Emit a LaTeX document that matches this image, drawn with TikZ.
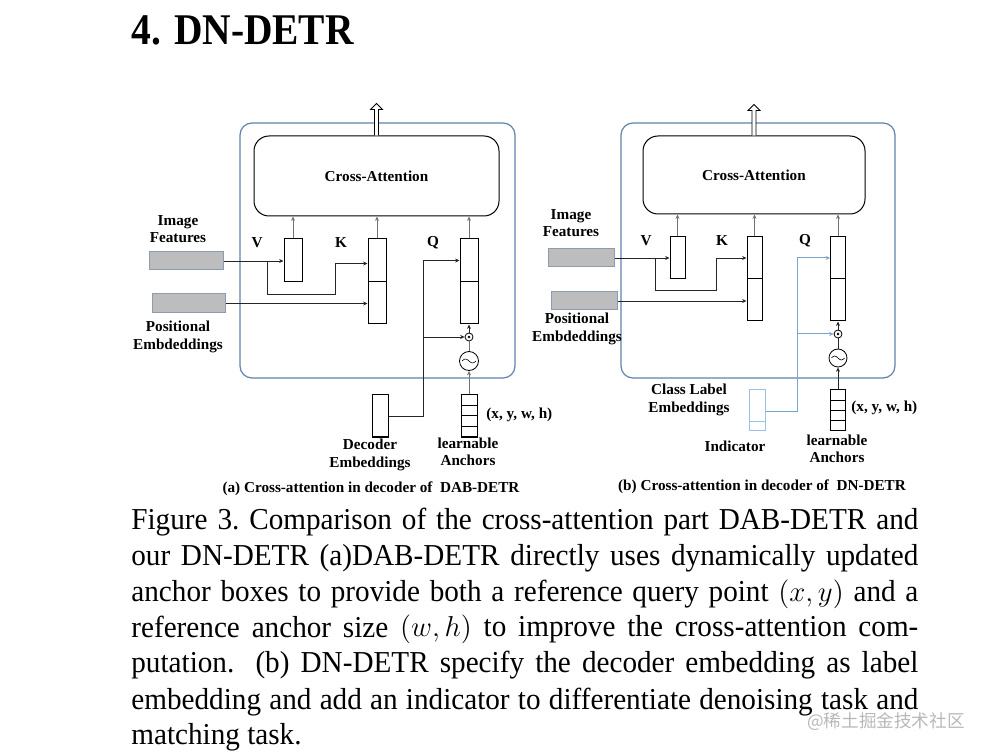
\documentclass[tikz,border=0pt]{standalone}
\usepackage{fontspec}
\setmainfont{Liberation Serif}
\newfontfamily\capfont[FakeStretch=0.96]{Liberation Serif}
\newfontfamily\headfont[FakeStretch=0.9]{Liberation Serif}
\newfontfamily\cjkfont{Noto Sans CJK SC}
\usetikzlibrary{arrows.meta,calc}

\definecolor{frameblue}{HTML}{5D82AC}
\definecolor{qblue}{HTML}{7AA3D4}
\definecolor{indblue}{HTML}{9CC0E6}
\definecolor{featgray}{HTML}{BDBDBD}
\definecolor{featedge}{HTML}{8C9CB0}

\newcommand\labfont{\bfseries\fontsize{7.6}{8.6}\selectfont}

\begin{document}
\begin{tikzpicture}[x=0.5pt,y=-0.5pt,
  outer/.style={draw=frameblue, line width=0.6pt, rounded corners=6pt},
  attn/.style={draw, rounded corners=7.5pt, font=\labfont, line width=0.5pt},
  cell/.style={draw, inner sep=0pt, line width=0.5pt},
  feat/.style={draw=featedge, fill=featgray, inner sep=0pt, line width=0.5pt},
  lab/.style={font=\labfont, align=center, inner sep=0pt},
  conn/.style={draw=black!85, line width=0.4pt},
  upconn/.style={draw=black!55, line width=0.4pt},
  bconn/.style={draw=qblue, line width=0.5pt},
  arr/.style={-{Stealth[length=2.2pt,width=2pt]}},
  opcirc/.style={draw, circle, inner sep=0pt, line width=0.4pt},
  outarrow/.style={draw, fill=white, line width=0.4pt}]

\path [use as bounding box] (0,0) rectangle (986,754);

% HEADING
\node[anchor=base west, inner sep=0pt, font=\headfont\bfseries\fontsize{21.9}{26}\selectfont] (title) at (131,45) {4. DN-DETR};

% PANEL A
\node[outer, minimum width=137.5pt, minimum height=127.5pt] (frameA) at (377.5,250.5) {};
\node[attn, minimum width=122.5pt, minimum height=40pt] (attA) at (376.5,176) {Cross-Attention};
\draw[outarrow] ([xshift=-1pt]attA.north) -- ++(0pt,13pt) -- ++(-2pt,0pt) -- ++(3pt,3pt) -- ++(3pt,-3pt) -- ++(-2pt,0pt) -- ([xshift=1pt]attA.north);

\node[cell, minimum width=9pt, minimum height=21.5pt] (vA) at (293,260.5) {};
\node[cell, minimum width=9pt, minimum height=21.5pt] (kA1) at (377,260.5) {};
\node[cell, minimum width=9pt, minimum height=21pt] (kA2) at (377,303) {};
\node[cell, minimum width=9pt, minimum height=21.5pt] (qA1) at (469,260.5) {};
\node[cell, minimum width=9pt, minimum height=21pt] (qA2) at (469,303) {};
\node[lab] (vlabA) at (257,243) {V};
\node[lab] (klabA) at (341,243) {K};
\node[lab] (qlabA) at (433,243) {Q};

\node[feat, minimum width=37pt, minimum height=9pt] (imgA) at (186,261) {};
\node[feat, minimum width=36.5pt, minimum height=9.5pt] (posA) at (188.5,303.5) {};
\node[lab] (imglabA) at (178,229) {Image\\Features};
\node[lab] (poslabA) at (178,337) {Positional\\Embdeddings};

\node[opcirc, minimum size=4pt] (odA) at (469,337) {};
\fill (odA) circle (0.7pt);
\node[opcirc, minimum size=9.5pt] (sinA) at (469,361) {};
\draw[line width=0.3pt] ([xshift=-3.5pt]sinA.center) sin ++(1.75pt,1pt) cos ++(1.75pt,-1pt) sin ++(1.75pt,-1pt) cos ++(1.75pt,1pt);

\node[cell, minimum width=8pt, minimum height=21pt] (decA) at (380,416) {};
\foreach \i/\y in {1/400.25,2/410.75,3/421.25,4/431.75}
  \node[cell, minimum width=8pt, minimum height=5.25pt] (ancA\i) at (469,\y) {};
\node[lab, anchor=west] (xywhA) at (486,415) {(x, y, w, h)};
\node[lab] (declabA) at (370,455) {Decoder\\Embeddings};
\node[lab] (anclabA) at (468,452) {learnable\\Anchors};
\node[lab] (capA) at (371,489) {(a) Cross-attention in decoder of~~DAB-DETR};

\draw[upconn,arr] (vA.north) -- (vA.north |- attA.south);
\draw[upconn,arr] (kA1.north) -- (kA1.north |- attA.south);
\draw[upconn,arr] (qA1.north) -- (qA1.north |- attA.south);

\draw[conn,arr] (imgA.east) -- (imgA.east -| vA.west);
\coordinate (splitA) at (267,261);
\draw[conn,arr] (splitA) |- (335,294) |- ([yshift=-1.5pt]kA1.west);
\draw[conn,arr] (posA.east) -- (posA.east -| kA2.west);

\draw[conn,arr] (decA.east) -| ($(qA1.west)+(-36,0)$) -- (qA1.west);
\coordinate (tapA) at (424,337);
\draw[conn,arr] (tapA) -- (odA.west);
\draw[conn,arr] (odA.north) -- (qA2.south);
\draw[upconn] (sinA.north) -- (odA.south);
\draw[upconn,arr] (ancA1.north) -- (sinA.south);

% PANEL B
\node[outer, minimum width=137pt, minimum height=127.5pt] (frameB) at (758,250.5) {};
\node[attn, minimum width=111pt, minimum height=39pt] (attB) at (754,175) {Cross-Attention};
\draw[outarrow] ([xshift=-1pt]attB.north) -- ++(0pt,12.5pt) -- ++(-2pt,0pt) -- ++(3pt,3pt) -- ++(3pt,-3pt) -- ++(-2pt,0pt) -- ([xshift=1pt]attB.north);

\node[cell, minimum width=7.5pt, minimum height=21pt] (vB) at (677.5,258) {};
\node[cell, minimum width=7.5pt, minimum height=21pt] (kB1) at (754.5,258) {};
\node[cell, minimum width=7.5pt, minimum height=21pt] (kB2) at (754.5,300) {};
\node[cell, minimum width=7.5pt, minimum height=21pt] (qB1) at (838,258) {};
\node[cell, minimum width=7.5pt, minimum height=21pt] (qB2) at (838,300) {};
\node[lab] (vlabB) at (646,241) {V};
\node[lab] (klabB) at (722,241) {K};
\node[lab] (qlabB) at (805,241) {Q};

\node[feat, minimum width=33pt, minimum height=9pt] (imgB) at (581,258) {};
\node[feat, minimum width=33pt, minimum height=9pt] (posB) at (584,301) {};
\node[lab] (imglabB) at (571,223) {Image\\Features};
\node[lab] (poslabB) at (577,329) {Positional\\Embdeddings};

\node[opcirc, minimum size=4pt] (odB) at (838,334) {};
\fill (odB) circle (0.7pt);
\node[opcirc, minimum size=9pt] (sinB) at (838,358) {};
\draw[line width=0.3pt] ([xshift=-3.3pt]sinB.center) sin ++(1.65pt,1pt) cos ++(1.65pt,-1pt) sin ++(1.65pt,-1pt) cos ++(1.65pt,1pt);

\node[cell, draw=indblue, minimum width=8pt, minimum height=16pt] (indB1) at (757,406) {};
\node[cell, draw=indblue, minimum width=8pt, minimum height=4.5pt] (indB2) at (757,426.5) {};
\foreach \i/\y in {1/395.1,2/405.4,3/415.6,4/425.9}
  \node[cell, minimum width=7.5pt, minimum height=5.1pt] (ancB\i) at (838,\y) {};
\node[lab, anchor=west] (xywhB) at (851,408) {(x, y, w, h)};
\node[lab] (clslabB) at (689,400) {Class Label\\Embeddings};
\node[lab] (indlabB) at (735,446) {Indicator};
\node[lab] (anclabB) at (837,449) {learnable\\Anchors};
\node[lab] (capB) at (762,487) {(b) Cross-attention in decoder of~~DN-DETR};

\draw[upconn,arr] (vB.north) -- (vB.north |- attB.south);
\draw[upconn,arr] (kB1.north) -- (kB1.north |- attB.south);
\draw[upconn,arr] (qB1.north) -- (qB1.north |- attB.south);

\draw[conn,arr] (imgB.east) -- (imgB.east -| vB.west);
\coordinate (splitB) at (655,258);
\draw[conn,arr] (splitB) |- (716,290) |- (kB1.west);
\draw[conn,arr] (posB.east) -- (posB.east -| kB2.west);

\draw[bconn,arr] ([yshift=-3pt]indB1.east) -| ($(qB1.west)+(-33,0)$) -- (qB1.west);
\coordinate (tapB) at (797.5,334);
\draw[bconn,arr] (tapB) -- (odB.west);
\draw[conn,arr] (odB.north) -- (qB2.south);
\draw[conn] (sinB.north) -- (odB.south);
\draw[conn,arr] (ancB1.north) -- (sinB.south);

% CAPTION
\node[anchor=base west, inner sep=0pt, text width=393.5pt, align=justify,
  font=\capfont\fontsize{15.2}{18}\selectfont] (caption) at (131,529)
  {Figure 3.\ Comparison of the cross-attention part DAB-DETR and\linebreak
   our DN-DETR (a)DAB-DETR directly uses dynamically updated\linebreak
   anchor boxes to provide both a reference query point $(x,y)$ and a\linebreak
   reference anchor size $(w,h)$ to improve the cross-attention com-\linebreak
   putation.  (b) DN-DETR specify the decoder embedding as label\linebreak
   embedding and add an indicator to differentiate denoising task and\linebreak
   matching task.};

% WATERMARK
\node[anchor=east, inner sep=0pt, text=black!28, font=\cjkfont\fontsize{8.8}{10}\selectfont] (mark) at (965,722) {@稀土掘金技术社区};

\end{tikzpicture}
\end{document}
